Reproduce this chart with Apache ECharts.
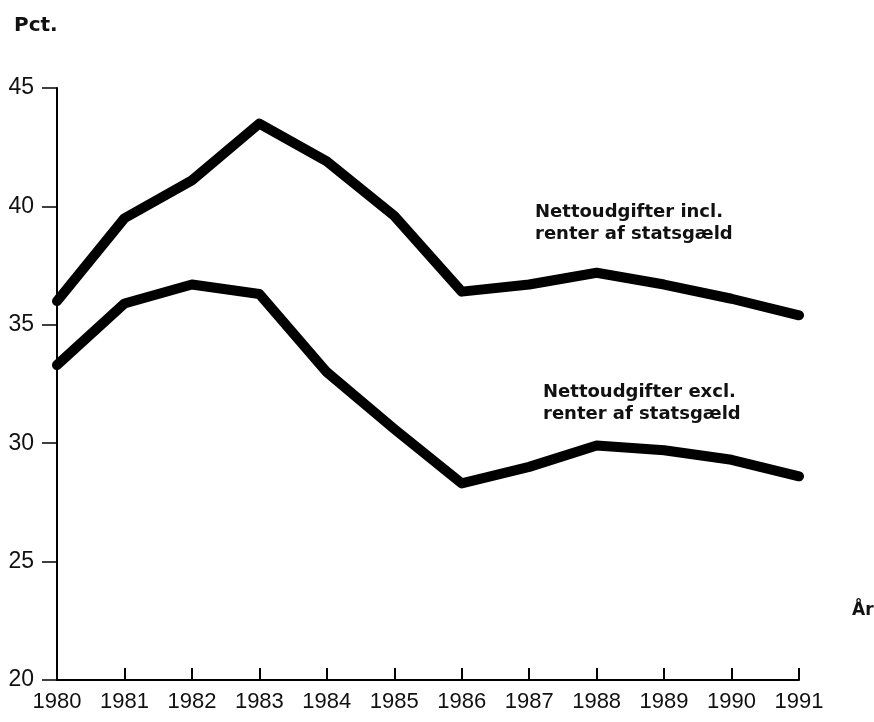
<!DOCTYPE html>
<html>
<head>
<meta charset="utf-8">
<script src="https://cdn.jsdelivr.net/npm/echarts@6/dist/echarts.min.js"></script>
<style>html,body{margin:0;padding:0;background:#fff;}#c{width:874px;height:722px;}</style>
</head>
<body>
<div id="c"></div>
<script>
const years = ['1980','1981','1982','1983','1984','1985','1986','1987','1988','1989','1990','1991'];
const inclRenter = [36.0, 39.5, 41.1, 43.5, 41.9, 39.6, 36.4, 36.7, 37.2, 36.7, 36.1, 35.4];
const exclRenter = [33.3, 35.9, 36.7, 36.3, 33.0, 30.6, 28.3, 29.0, 29.9, 29.7, 29.3, 28.6];
const labelIncl = 'Nettoudgifter incl.\nrenter af statsgæld';
const labelExcl = 'Nettoudgifter excl.\nrenter af statsgæld';

const chart = echarts.init(document.getElementById('c'), null, {renderer: 'canvas'});
const lineStyle = {color: '#000', width: 10, cap: 'round', join: 'round'};
chart.setOption({
  animation: false,
  backgroundColor: '#fff',
  grid: {left: 57, right: 75, top: 88, bottom: 42},
  xAxis: {
    type: 'category',
    data: years,
    boundaryGap: false,
    axisLine: {lineStyle: {color: '#000', width: 2}},
    axisTick: {inside: true, length: 12, lineStyle: {color: '#000', width: 2}},
    axisLabel: {color: '#111', fontFamily: 'Liberation Sans', fontSize: 22, margin: 11}
  },
  yAxis: {
    type: 'value',
    min: 20, max: 45, interval: 5,
    splitLine: {show: false},
    axisLine: {show: true, lineStyle: {color: '#000', width: 2}},
    axisTick: {show: true, inside: false, length: 15, lineStyle: {color: '#000', width: 1.5}},
    axisLabel: {color: '#111', fontFamily: 'Liberation Sans', fontSize: 23, margin: 23}
  },
  series: [
    {type: 'line', data: inclRenter, symbol: 'none', lineStyle: lineStyle},
    {type: 'line', data: exclRenter, symbol: 'none', lineStyle: lineStyle}
  ],
  graphic: [
    {type: 'text', left: 14, top: 16, style: {text: 'Pct.', font: 'bold 20px "DejaVu Sans"', fill: '#111'}},
    {type: 'text', x: 852, y: 611, style: {text: 'År', font: 'bold 17px "DejaVu Sans"', fill: '#111', verticalAlign: 'middle'}},
    {type: 'text', x: 535, y: 223, style: {text: labelIncl, font: 'bold 18px "DejaVu Sans"', lineHeight: 22, fill: '#111', verticalAlign: 'middle'}},
    {type: 'text', x: 543, y: 403, style: {text: labelExcl, font: 'bold 18px "DejaVu Sans"', lineHeight: 22, fill: '#111', verticalAlign: 'middle'}}
  ]
});
</script>
</body>
</html>
